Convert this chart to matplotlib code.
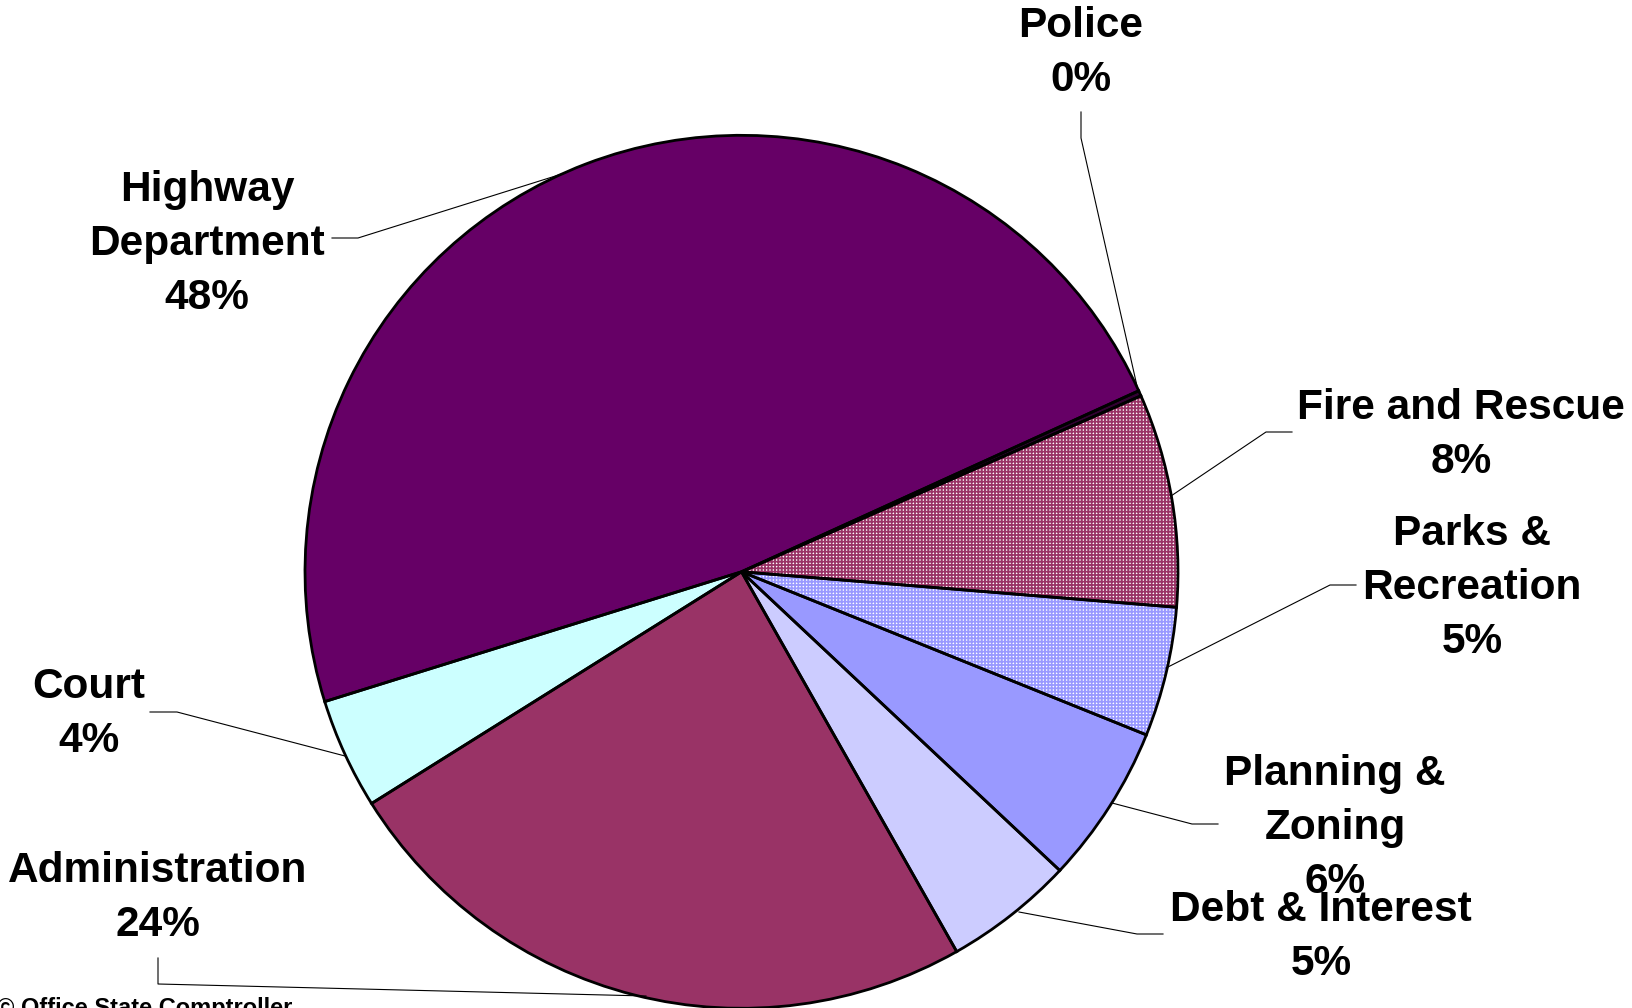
import numpy as np
import matplotlib.pyplot as plt

# slice data, clockwise from the top right
categories = ["Police", "Fire and Rescue", "Parks &\nRecreation", "Planning &\nZoning",
              "Debt & Interest", "Administration", "Court", "Highway\nDepartment"]
shares = [0.2, 7.9, 4.8, 5.9, 4.8, 24.3, 4.1, 48.0]
pct_labels = ["0%", "8%", "5%", "6%", "5%", "24%", "4%", "48%"]

colors = ["#330033", "white", "white", "#9999FF", "#CCCCFF", "#993366", "#CCFFFF", "#660066"]
hatches = [None, "+++++", "+++++", None, None, None, None, None]
hatch_colors = [None, "#993366", "#9999FF", None, None, None, None, None]

# layout in figure pixels (1633 x 1008)
W, H = 1633, 1008
CX, CY, R = 741.5, 571.8, 436.5

label_pos = [(1081, 53), (1461, 435), (1472, 588), (1335, 828),
             (1321, 937), (158, 898), (89, 714), (207, 244)]
leaders = [
    [(1081, 112), (1081, 138), (1137, 386)],
    [(1292, 432), (1266, 432), (1171, 496)],
    [(1356, 585), (1330, 585), (1166, 668)],
    [(1218, 824), (1192, 824), (1112, 803)],
    [(1163, 934), (1137, 934), (1019, 912)],
    [(158, 958), (158, 984), (646, 996)],
    [(150, 712), (177, 712), (345, 756)],
    [(332, 238), (358, 238), (565, 173)],
]


def px(x, y):
    return (x - CX) / R, (CY - y) / R


plt.rcParams['hatch.linewidth'] = 1.3
font = dict(family=['Liberation Sans', 'DejaVu Sans'], weight='bold')

fig = plt.figure(figsize=(W / 100, H / 100), dpi=100)
ax = fig.add_axes([0, 0, 1, 1])

wedges, _ = ax.pie(shares, colors=colors, startangle=24.5, counterclock=False,
                   radius=1, wedgeprops=dict(linewidth=0))
for w, h, hc in zip(wedges, hatches, hatch_colors):
    if h:
        w.set_hatch(h)
        w.set_edgecolor(hc)

# outlines on top
ax.pie(shares, startangle=24.5, counterclock=False, radius=1,
       wedgeprops=dict(fill=False, edgecolor='black', linewidth=2))

for name, pct, (lx, ly), path in zip(categories, pct_labels, label_pos, leaders):
    ax.text(*px(lx, ly), f"{name}\n{pct}", ha='center', va='center',
            fontsize=30.5, linespacing=1.46, **font)
    xs, ys = zip(*[px(x, y) for x, y in path])
    ax.plot(xs, ys, color='black', linewidth=0.8)

fig.text(-0.002, -0.007, "\u00a9 Office State Comptroller", ha='left', va='baseline',
         fontsize=17, **font)

ax.set_xlim(-CX / R, (W - CX) / R)
ax.set_ylim((CY - H) / R, CY / R)
ax.set_aspect('auto')
ax.axis('off')

fig.savefig('out.png', dpi=100)
